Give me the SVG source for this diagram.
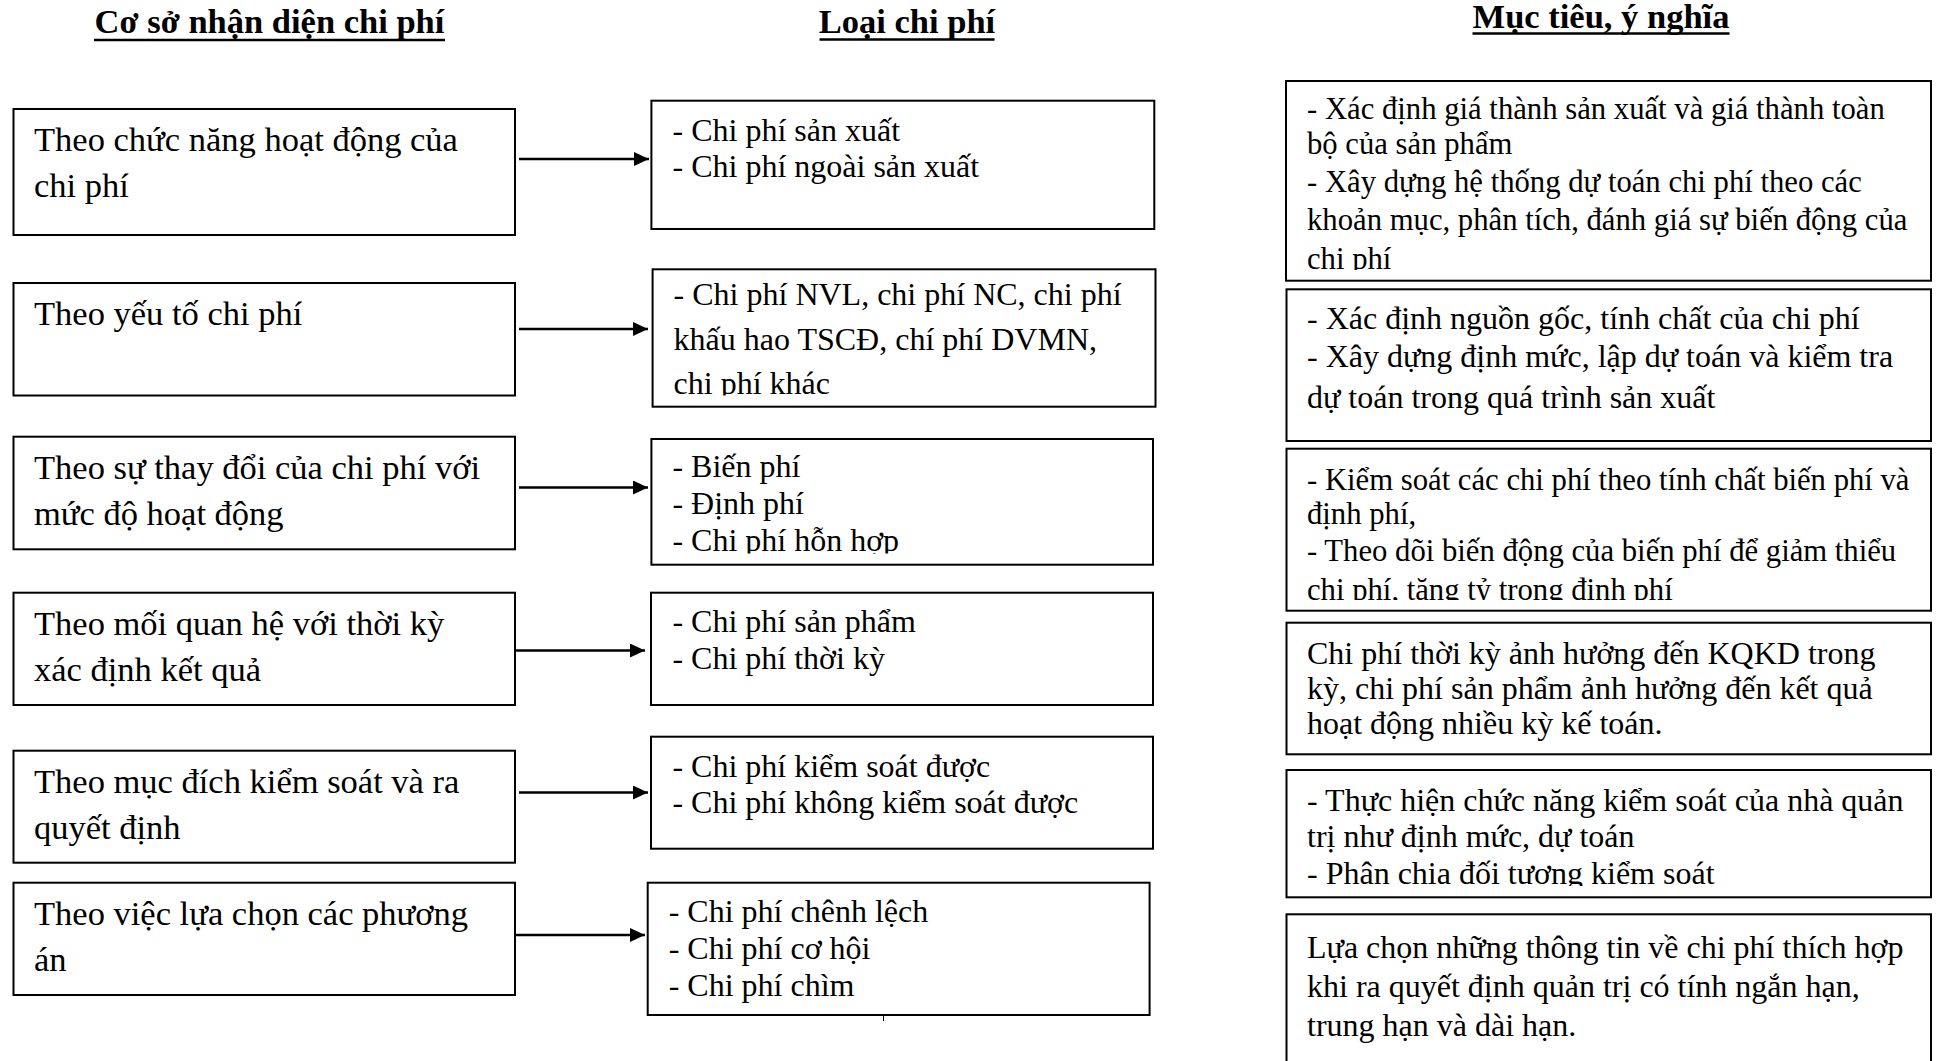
<svg xmlns="http://www.w3.org/2000/svg" width="1938" height="1061" viewBox="0 0 1938 1061">
  <style>
    text { font-family: "Liberation Serif", "Times New Roman", serif; fill: #000; }
    .title { font-size: 34.5px; font-weight: bold; text-anchor: middle; }
    .uline { stroke: #000; stroke-width: 2.5; }
    .box { fill: #fff; stroke: #000; stroke-width: 2; }
    .big { font-size: 34.5px; }
    .small { font-size: 32px; }
    .smaller { font-size: 30.7px; }
    .conn { stroke: #000; stroke-width: 2.5; fill: none; marker-end: url(#arrow); }
  </style>
  <defs>
    <marker id="arrow" viewBox="0 0 15 14" refX="15" refY="7" markerWidth="15" markerHeight="14" markerUnits="userSpaceOnUse" orient="auto">
      <path d="M0,0 L15,7 L0,14 z" fill="#000"/>
    </marker>
    <!-- text areas of boxes whose last line runs past the inner margin -->
    <clipPath id="clip-m2"><rect x="652" y="269" width="504" height="126.5"/></clipPath>
    <clipPath id="clip-m3"><rect x="651" y="439" width="503" height="114.5"/></clipPath>
    <clipPath id="clip-r1"><rect x="1286" y="81" width="645" height="189"/></clipPath>
    <clipPath id="clip-r3"><rect x="1286" y="448" width="645" height="152"/></clipPath>
    <clipPath id="clip-r5"><rect x="1286" y="770" width="645" height="116"/></clipPath>
  </defs>

  <rect width="1938" height="1061" fill="#fff"/>

  <!-- column headings -->
  <g id="headings">
    <text class="title" x="269.5" y="33">Cơ sở nhận diện chi phí</text>
    <line class="uline" x1="94" y1="40" x2="445" y2="40"/>
    <text class="title" x="907" y="33">Loại chi phí</text>
    <line class="uline" x1="819.5" y1="39.5" x2="994.5" y2="39.5"/>
    <text class="title" x="1601" y="28">Mục tiêu, ý nghĩa</text>
    <line class="uline" x1="1472.5" y1="33.5" x2="1729.5" y2="33.5"/>
  </g>

  <!-- left column: basis of classification -->
  <g id="basis-1">
    <rect class="box" x="13.5" y="109" width="501.5" height="126"/>
    <text class="big"><tspan x="34" y="150.5">Theo chức năng hoạt động của</tspan><tspan x="34" y="196.5">chi phí</tspan></text>
  </g>
  <g id="basis-2">
    <rect class="box" x="13.5" y="283" width="501.5" height="112.5"/>
    <text class="big"><tspan x="34" y="324.5">Theo yếu tố chi phí</tspan></text>
  </g>
  <g id="basis-3">
    <rect class="box" x="13.5" y="436.7" width="501.5" height="112.6"/>
    <text class="big"><tspan x="34" y="478.5">Theo sự thay đổi của chi phí với</tspan><tspan x="34" y="524.5">mức độ hoạt động</tspan></text>
  </g>
  <g id="basis-4">
    <rect class="box" x="13.5" y="592.7" width="501.5" height="112.3"/>
    <text class="big"><tspan x="34" y="634.5">Theo mối quan hệ với thời kỳ</tspan><tspan x="34" y="680.5">xác định kết quả</tspan></text>
  </g>
  <g id="basis-5">
    <rect class="box" x="13.5" y="750.7" width="501.5" height="112"/>
    <text class="big"><tspan x="34" y="792.5">Theo mục đích kiểm soát và ra</tspan><tspan x="34" y="838.5">quyết định</tspan></text>
  </g>
  <g id="basis-6">
    <rect class="box" x="13.5" y="882.7" width="501.5" height="112.3"/>
    <text class="big"><tspan x="34" y="924.5">Theo việc lựa chọn các phương</tspan><tspan x="34" y="970.5">án</tspan></text>
  </g>

  <!-- middle column: cost types -->
  <g id="type-1">
    <rect class="box" x="651.4" y="100.7" width="502.9" height="128.3"/>
    <text class="small"><tspan x="672.5" y="141">- Chi phí sản xuất</tspan><tspan x="672.5" y="177">- Chi phí ngoài sản xuất</tspan></text>
  </g>
  <g id="type-2">
    <rect class="box" x="652.6" y="269.3" width="502.9" height="137.4"/>
    <text class="small" clip-path="url(#clip-m2)"><tspan x="673.6" y="305">- Chi phí NVL, chi phí NC, chi phí</tspan><tspan x="673.6" y="349.5">khấu hao TSCĐ, chí phí DVMN,</tspan><tspan x="673.6" y="393.5">chi phí khác</tspan></text>
  </g>
  <g id="type-3">
    <rect class="box" x="651.4" y="439" width="501.6" height="125.7"/>
    <text class="small" clip-path="url(#clip-m3)"><tspan x="672.4" y="477">- Biến phí</tspan><tspan x="672.4" y="514">- Định phí</tspan><tspan x="672.4" y="551">- Chi phí hỗn hợp</tspan></text>
  </g>
  <g id="type-4">
    <rect class="box" x="651" y="592.7" width="502" height="112.3"/>
    <text class="small"><tspan x="672.4" y="632">- Chi phí sản phẩm</tspan><tspan x="672.4" y="669">- Chi phí thời kỳ</tspan></text>
  </g>
  <g id="type-5">
    <rect class="box" x="651" y="736.7" width="502" height="112"/>
    <text class="small"><tspan x="672.4" y="776.5">- Chi phí kiểm soát được</tspan><tspan x="672.4" y="813">- Chi phí không kiểm soát được</tspan></text>
  </g>
  <g id="type-6">
    <rect class="box" x="647.7" y="882.7" width="501.9" height="132.3"/>
    <text class="small"><tspan x="668.7" y="922">- Chi phí chênh lệch</tspan><tspan x="668.7" y="959">- Chi phí cơ hội</tspan><tspan x="668.7" y="995.5">- Chi phí chìm</tspan></text>
    <line x1="883.5" y1="1015" x2="883.5" y2="1021" stroke="#000" stroke-width="1"/>
  </g>

  <!-- right column: purpose and meaning -->
  <g id="purpose-1">
    <rect class="box" x="1286" y="81" width="645" height="199.7"/>
    <text class="smaller" clip-path="url(#clip-r1)"><tspan x="1307" y="118.5">- Xác định giá thành sản xuất và giá thành toàn</tspan><tspan x="1307" y="153.5">bộ của sản phẩm</tspan><tspan x="1307" y="191.5">- Xây dựng hệ thống dự toán chi phí theo các</tspan><tspan x="1307" y="230">khoản mục, phân tích, đánh giá sự biến động của</tspan><tspan x="1307" y="268.5">chi phí</tspan></text>
  </g>
  <g id="purpose-2">
    <rect class="box" x="1286.5" y="289.3" width="644.5" height="151.7"/>
    <text class="small"><tspan x="1307" y="328.5">- Xác định nguồn gốc, tính chất của chi phí</tspan><tspan x="1307" y="366.5">- Xây dựng định mức, lập dự toán và kiểm tra</tspan><tspan x="1307" y="407.5">dự toán trong quá trình sản xuất</tspan></text>
  </g>
  <g id="purpose-3">
    <rect class="box" x="1286.5" y="448.7" width="644.5" height="162"/>
    <text class="smaller" clip-path="url(#clip-r3)"><tspan x="1307" y="490">- Kiểm soát các chi phí theo tính chất biến phí và</tspan><tspan x="1307" y="523.5">định phí,</tspan><tspan x="1307" y="561">- Theo dõi biến động của biến phí để giảm thiểu</tspan><tspan x="1307" y="600">chi phí, tăng tỷ trọng định phí</tspan></text>
  </g>
  <g id="purpose-4">
    <rect class="box" x="1286.5" y="622.7" width="644.5" height="131.6"/>
    <text class="small"><tspan x="1307" y="663.5">Chi phí thời kỳ ảnh hưởng đến KQKD trong</tspan><tspan x="1307" y="699">kỳ, chi phí sản phẩm ảnh hưởng đến kết quả</tspan><tspan x="1307" y="733.5">hoạt động nhiều kỳ kế toán.</tspan></text>
  </g>
  <g id="purpose-5">
    <rect class="box" x="1286.5" y="770" width="644.5" height="127.3"/>
    <text class="small" clip-path="url(#clip-r5)"><tspan x="1307" y="810.5">- Thực hiện chức năng kiểm soát của nhà quản</tspan><tspan x="1307" y="847">trị như định mức, dự toán</tspan><tspan x="1307" y="884">- Phân chia đối tượng kiểm soát</tspan></text>
  </g>
  <g id="purpose-6">
    <rect class="box" x="1286.5" y="914.3" width="644.5" height="170"/>
    <text class="small"><tspan x="1307" y="958">Lựa chọn những thông tin về chi phí thích hợp</tspan><tspan x="1307" y="996.5">khi ra quyết định quản trị có tính ngắn hạn,</tspan><tspan x="1307" y="1035.5">trung hạn và dài hạn.</tspan></text>
  </g>

  <!-- arrows from each basis to its cost types -->
  <g id="connectors">
    <line class="conn" x1="519" y1="159" x2="649" y2="159"/>
    <line class="conn" x1="519" y1="329" x2="648" y2="329"/>
    <line class="conn" x1="519" y1="487.5" x2="648" y2="487.5"/>
    <line class="conn" x1="515.5" y1="650.5" x2="645" y2="650.5"/>
    <line class="conn" x1="519" y1="792.5" x2="648" y2="792.5"/>
    <line class="conn" x1="515.5" y1="935" x2="645" y2="935"/>
  </g>
</svg>
